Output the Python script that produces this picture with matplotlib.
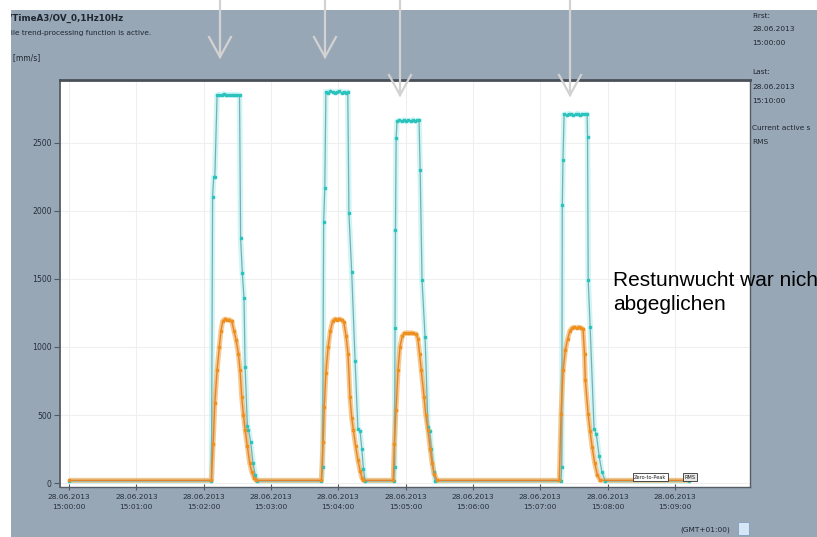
import matplotlib
matplotlib.use("Agg")
import matplotlib.pyplot as plt
from matplotlib.lines import Line2D
from matplotlib.patches import Rectangle

W, H = 817, 537

# ---------------- data (time in seconds after 15:00:00, values in mm/s) -------------
t_peak = [0, 127, 128, 129, 130, 132, 134, 136, 138, 140, 142, 144, 146, 148, 150, 152,
          153, 154.5, 156, 157, 159, 160, 162, 164, 166, 168,
          225, 226, 227, 228, 229, 231, 233, 235, 237, 239, 241, 243, 245, 247, 248.5,
          249.5, 252, 255, 257.5, 259.5, 261, 262.5, 264,
          289.5, 290.2, 290.6, 291, 291.6, 292.4, 294.5, 296.5, 298.5, 300.5, 302.5, 304.5,
          306.5, 308.5, 310.5, 312, 313, 314.7, 317.4, 320, 321.5, 323, 325, 326.5,
          438.5, 439.2, 439.7, 440.3, 441.3, 443.5, 445.5, 447.5, 449.5, 451.5, 453.5,
          455.5, 457.5, 459.5, 461.8, 462.2, 462.8, 464.5, 468, 470, 472.5, 475, 478, 553]
v_peak = [15, 15, 2100, 2250, 2250, 2850, 2855, 2850, 2860, 2850, 2855, 2850, 2855, 2850, 2855, 2850,
          1800, 1545, 1360, 850, 420, 390, 300, 150, 60, 15,
          15, 120, 1920, 2170, 2875, 2870, 2880, 2875, 2870, 2875, 2880, 2870, 2875, 2870, 2875,
          1985, 1550, 900, 400, 380, 250, 100, 15,
          15, 120, 1140, 1860, 2535, 2660, 2665, 2660, 2670, 2660, 2665, 2660,
          2670, 2660, 2665, 2665, 2300, 1490, 1070, 410, 380, 250, 80, 15,
          15, 120, 2045, 2375, 2710, 2705, 2715, 2710, 2705, 2710, 2715,
          2705, 2710, 2710, 2710, 2545, 1490, 1150, 400, 360, 200, 80, 15, 15]

t_rms = [0, 127, 128.5, 130, 132, 134, 135.5, 137, 139, 141, 143, 145, 147, 149, 151, 152.5,
         154, 155.5, 157, 159, 161, 163, 165, 167,
         225, 226.5, 227.5, 229, 231, 233, 235, 237, 239, 241, 243, 245, 247, 248.7, 250.5,
         252, 253.5, 255.5, 257.5, 259.5, 261, 262.5,
         289, 290, 291.5, 293.3, 295, 297, 299, 301, 303, 305, 307, 309.5, 311, 312.5, 314,
         316.5, 318, 320, 322, 323.6, 325.5, 328,
         437, 438.6, 440.4, 442.5, 444.5, 446.5, 448.5, 450.5, 452.5, 454.5, 456.5, 458.2,
         459.5, 460.2, 462.7, 464.5, 466.3, 468.5, 471, 473.5, 553]
v_rms = [20, 20, 290, 590, 830, 1000, 1120, 1190, 1205, 1200, 1200, 1190, 1120, 1050, 950, 830,
         630, 500, 390, 270, 150, 80, 35, 20,
         20, 300, 560, 810, 1000, 1120, 1190, 1205, 1200, 1205, 1200, 1180, 1080, 950, 630,
         480, 390, 270, 170, 90, 40, 20,
         20, 290, 540, 830, 1000, 1080, 1100, 1105, 1100, 1105, 1100, 1095, 1060, 950, 830,
         630, 500, 390, 250, 150, 70, 20,
         20, 510, 830, 980, 1060, 1120, 1140, 1145, 1140, 1145, 1140, 1130,
         950, 760, 510, 380, 265, 150, 60, 20, 20]

x_ticks = [0, 60, 120, 180, 240, 300, 360, 420, 480, 540]
x_labels = ["28.06.2013\n15:0%d:00" % i for i in range(10)]
y_ticks = [0, 500, 1000, 1500, 2000, 2500]
y_labels = ["0", "500", "1000", "1500", "2000", "2500"]

# ---------------- figure -------------------------------------------------------------
fig = plt.figure(figsize=(W / 100, H / 100), dpi=100)
fig.patch.set_facecolor("#98a7b6")


def fx(x):
    return x / W


def fy(y):
    return 1 - y / H


ax = fig.add_axes([fx(60), fy(487), 690 / W, 407 / H])
ax.set_facecolor("white")
ax.set_xlim(-8, 607)
ax.set_ylim(-29, 2962)

ax.grid(True, color="#efefef", lw=0.8)
ax.set_axisbelow(True)

# halos
ax.plot(t_peak, v_peak, color="#a8f0ee", lw=4, alpha=0.55, solid_capstyle="butt", zorder=2)
ax.plot(t_rms, v_rms, color="#f3b360", lw=3.6, alpha=0.7, solid_capstyle="butt", zorder=3)
# core lines with markers
ax.plot(t_peak, v_peak, color="#7aaeb4", lw=0.9, marker="s", ms=1.6,
        mfc="#2cc2bd", mec="#2cc2bd", zorder=4)
ax.plot(t_rms, v_rms, color="#e4842c", lw=1.0, marker="s", ms=1.6,
        mfc="#ee9020", mec="#ee9020", zorder=5)

ax.set_xticks(x_ticks)
ax.set_xticklabels(x_labels, fontsize=5.4, color="#26303a", linespacing=1.9)
ax.set_yticks(y_ticks)
ax.set_yticklabels(y_labels, fontsize=5.6, color="#26303a")
ax.tick_params(axis="y", length=4.5, width=0.8, color="#505860", pad=1.5)
ax.tick_params(axis="x", length=4, width=0.8, color="#505860", pad=3, direction="inout")

for s in ax.spines.values():
    s.set_color("#555d66")
    s.set_linewidth(1.0)
ax.spines["top"].set_linewidth(2.0)
ax.spines["top"].set_color("#4a5058")
ax.spines["left"].set_linewidth(1.3)

# legend-like small box at the bottom
ax.text(0.832, 0.018, "Zero-to-Peak", transform=ax.transAxes, fontsize=3.6,
        color="#202020", va="bottom", ha="left", zorder=8,
        bbox=dict(boxstyle="square,pad=0.25", fc="white", ec="#303030", lw=0.6))
ax.text(0.905, 0.018, "RMS", transform=ax.transAxes, fontsize=3.6,
        color="#202020", va="bottom", ha="left", zorder=8,
        bbox=dict(boxstyle="square,pad=0.25", fc="#e8e8e8", ec="#303030", lw=0.6))

# ---------------- header / side texts ------------------------------------------------
tc = "#1e2630"
fig.text(fx(9), fy(18), "/TimeA3/OV_0,1Hz10Hz", fontsize=6.3, fontweight="bold",
         color=tc, va="center")
fig.text(fx(7), fy(33), "File trend-processing function is active.", fontsize=5.3,
         color=tc, va="center")
fig.text(fx(6), fy(58), "x [mm/s]", fontsize=5.5, color=tc, va="center")

side = [("First:", 16), ("28.06.2013", 29), ("15:00:00", 43), ("Last:", 72),
        ("28.06.2013", 87), ("15:10:00", 101), ("Current active s", 128), ("RMS", 142)]
for s, y in side:
    fig.text(fx(752), fy(y), s, fontsize=5.3, color=tc, va="center")

fig.text(fx(680), fy(530), "(GMT+01:00)", fontsize=5.3, color=tc, va="center")
fig.add_artist(Rectangle((fx(738), fy(535)), 11 / W, 13 / H, transform=fig.transFigure,
                         fc="#d5e6f6", ec="#7f9fc0", lw=0.6, zorder=3))

# annotation
fig.text(fx(613), fy(286), "Restunwucht war nicht", fontsize=15,
         family=["Liberation Sans", "DejaVu Sans"], color="black", va="baseline", zorder=10)
fig.text(fx(613), fy(310), "abgeglichen", fontsize=15,
         family=["Liberation Sans", "DejaVu Sans"], color="black", va="baseline", zorder=10)

# white borders of the screenshot
fig.add_artist(Rectangle((0, fy(10)), 1, 10 / H, transform=fig.transFigure,
                         fc="white", ec="none", zorder=20))
fig.add_artist(Rectangle((0, 0), 11 / W, 1, transform=fig.transFigure,
                         fc="white", ec="none", zorder=20))

# arrows
arrows = [(220, 57), (325, 57), (400, 95), (570, 95)]
ac = "#d2d2d2"
for x, ytip in arrows:
    fig.add_artist(Line2D([fx(x), fx(x)], [fy(0), fy(ytip)], transform=fig.transFigure,
                          color=ac, lw=1.6, zorder=30))
    fig.add_artist(Line2D([fx(x - 11), fx(x), fx(x + 11)], [fy(ytip - 20), fy(ytip), fy(ytip - 20)],
                          transform=fig.transFigure, color=ac, lw=1.6, zorder=30,
                          solid_joinstyle="miter"))

fig.savefig("out.png", dpi=100, facecolor=fig.get_facecolor())
